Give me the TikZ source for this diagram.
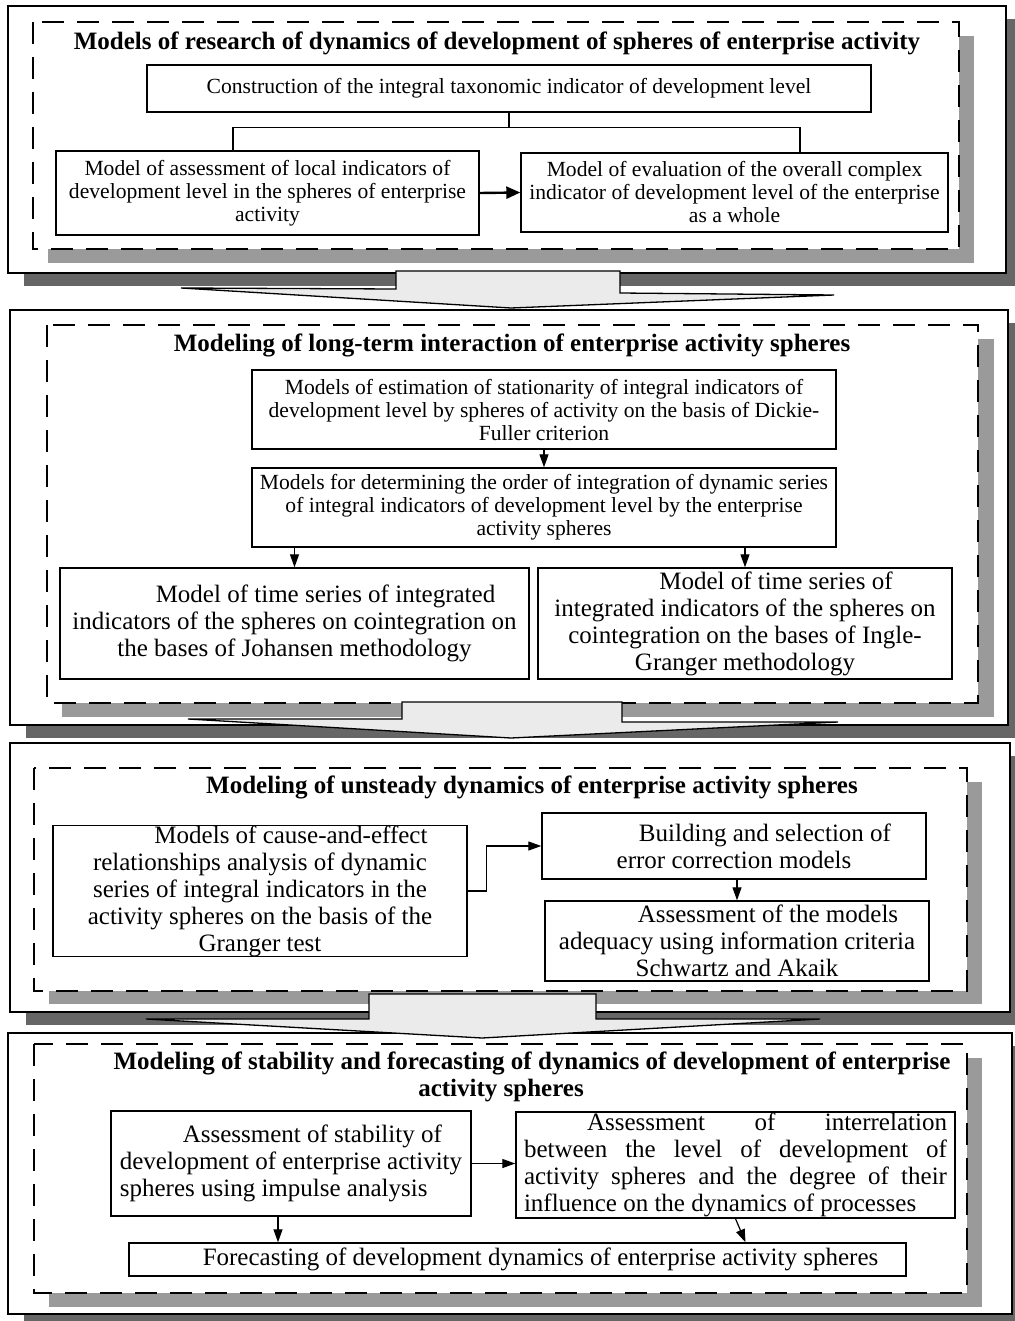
\documentclass[tikz,border=0pt]{standalone}
\usepackage{fontspec}
\setmainfont{Liberation Serif}
\usetikzlibrary{arrows.meta}

\definecolor{shadowdark}{HTML}{666666}
\definecolor{shadowlight}{HTML}{9A9A9A}
\definecolor{blockgray}{HTML}{EBEBEB}

\newcommand{\boxtext}{\fontsize{21.6}{23}\selectfont}
\newcommand{\bigtext}{\fontsize{25}{27}\selectfont}

\begin{document}
\begin{tikzpicture}[x=1pt, y=-1pt,
  outerbox/.style={draw, line width=1.4pt, fill=white},
  dashbox/.style={draw, line width=1.6pt, fill=white, dash pattern=on 22pt off 13pt},
  modelbox/.style={draw, line width=1.4pt, fill=white, inner sep=0pt, font=\boxtext, align=center},
  bigbox/.style={modelbox, font=\bigtext},
  heading/.style={font=\bigtext\bfseries, align=center, inner sep=0pt},
  arr/.style={line width=1.2pt, -{Triangle[length=13pt, width=9pt]}},
  blockarrow/.style={draw, line width=1.3pt, fill=blockgray, line join=miter}
]
  \useasboundingbox (0,0) rectangle (1014,1321);

  % Panel 1: research of dynamics
  \fill[shadowdark] (24,19) rectangle (1022,286);
  \draw[outerbox] (8,6) rectangle (1006,273);
  \fill[shadowlight] (48,36) rectangle (974,263);
  \draw[dashbox] (33,22) rectangle (959,249);

  \node[heading] (title1) at (497,43) {Models of research of dynamics of development of spheres of enterprise activity};
  \node[modelbox, minimum width=724pt, minimum height=47pt] (taxon) at (509,88.5)
    {Construction of the integral taxonomic indicator of development level};
  \node[modelbox, minimum width=423pt, minimum height=84pt] (local) at (267.5,193)
    {Model of assessment of local indicators of\\development level in the spheres of enterprise\\activity};
  \node[modelbox, minimum width=427pt, minimum height=79pt] (overall) at (734.5,192.5)
    {Model of evaluation of the overall complex\\indicator of development level of the enterprise\\as a whole};

  \draw[line width=1.2pt] (taxon.south) -- ++(0,15) -| ([xshift=-34.5pt]local.north);
  \draw[line width=1.2pt] (taxon.south) ++(0,15) -| ([xshift=65.5pt]overall.north);
  \draw[line width=2.4pt, -{Triangle[length=14pt, width=12pt]}] (local.east) -- (overall.west);

  % Block arrow 1
  \draw[blockarrow] (396,271) -- (620,271) -- (620,293) -- (834,295) -- (511,308)
    -- (181,288) -- (396,289) -- cycle;

  % Panel 2: long-term interaction
  \fill[shadowdark] (26,323) rectangle (1024,738);
  \draw[outerbox] (10,310) rectangle (1008,725);
  \fill[shadowlight] (62,339) rectangle (994,717);
  \draw[dashbox] (47,325) rectangle (978,703);

  \node[heading] (title2) at (512,345) {Modeling of long-term interaction of enterprise activity spheres};
  \node[modelbox, minimum width=584pt, minimum height=79pt] (station) at (544,409.5)
    {Models of estimation of stationarity of integral indicators of\\development level by spheres of activity on the basis of Dickie-\\Fuller criterion};
  \node[modelbox, minimum width=584pt, minimum height=79pt] (order) at (544,507.5)
    {Models for determining the order of integration of dynamic series\\of integral indicators of development level by the enterprise\\activity spheres};
  \node[bigbox, minimum width=469pt, minimum height=111pt] (johansen) at (294.5,623.5)
    {\hspace*{62pt}Model of time series of integrated\\indicators of the spheres on cointegration on\\the bases of Johansen methodology};
  \node[bigbox, minimum width=414pt, minimum height=111pt] (ingle) at (745,623.5)
    {\hspace*{62pt}Model of time series of\\integrated indicators of the spheres on\\cointegration on the bases of Ingle-\\Granger methodology};

  \draw[arr] (station.south) -- (order.north);
  \draw[arr] (order.south -| johansen.north) -- (johansen.north);
  \draw[arr] (order.south -| ingle.north) -- (ingle.north);

  % Block arrow 2
  \draw[blockarrow] (402,702) -- (622,702) -- (622,722) -- (838,722) -- (511,738)
    -- (188,719) -- (402,719) -- cycle;

  % Panel 3: unsteady dynamics
  \fill[shadowdark] (26,756) rectangle (1026,1025);
  \draw[outerbox] (10,743) rectangle (1010,1012);
  \fill[shadowlight] (49,782) rectangle (982,1004);
  \draw[dashbox] (34,768) rectangle (967,991);

  \node[heading] (title3) at (501,787) {\hspace*{62pt}Modeling of unsteady dynamics of enterprise activity spheres};
  \node[bigbox, minimum width=414pt, minimum height=126pt] (granger) at (260,891)
    {\hspace*{62pt}Models of cause-and-effect\\relationships analysis of dynamic\\series of integral indicators in the\\activity spheres on the basis of the\\Granger test};
  \node[bigbox, minimum width=384pt, minimum height=66pt] (ecm) at (734,846)
    {\hspace*{62pt}Building and selection of\\error correction models};
  \node[bigbox, minimum width=384pt, minimum height=80pt] (adequacy) at (737,941)
    {\hspace*{62pt}Assessment of the models\\adequacy using information criteria\\Schwartz and Akaik};

  \draw[arr] (granger.east) -- ++(19,0) |- (ecm.west);
  \draw[arr] (ecm.south -| adequacy.north) -- (adequacy.north);

  % Panel 4: stability and forecasting
  \fill[shadowdark] (24,1046) rectangle (1028,1327);
  \draw[outerbox] (8,1033) rectangle (1012,1314);
  \fill[shadowlight] (49,1058) rectangle (982,1307);
  \draw[dashbox] (34,1044) rectangle (967,1293);

  % Block arrow 3
  \draw[blockarrow] (369,994) -- (596,994) -- (596,1019) -- (820,1019) -- (482,1038)
    -- (146,1019) -- (369,1019) -- cycle;

  \node[heading] (title4) at (501,1077)
    {\hspace*{62pt}Modeling of stability and forecasting of dynamics of development of enterprise\\activity spheres};
  \node[bigbox, align=left, minimum width=360pt, minimum height=105pt] (impulse) at (291,1163.5)
    {\hspace*{63pt}Assessment of stability of\\development of enterprise activity\\spheres using impulse analysis};
  \node[bigbox, align=left, minimum width=439pt, minimum height=106pt] (interrel) at (735.5,1165)
    {\hspace*{63pt}\makebox[360pt][s]{Assessment of interrelation}\\
     \makebox[423pt][s]{between the level of development of}\\
     \makebox[423pt][s]{activity spheres and the degree of their}\\
     influence on the dynamics of processes};
  \node[bigbox, minimum width=777pt, minimum height=33pt] (forecast) at (517.5,1259.5)
    {\hspace*{46pt}Forecasting of development dynamics of enterprise activity spheres};

  \draw[arr] (impulse.east) -- (impulse.east -| interrel.west);
  \draw[arr] ([xshift=-13pt]impulse.south) -- ([xshift=-13pt]impulse.south |- forecast.north);
  \draw[arr] (interrel.south) -- ([xshift=10pt]interrel.south |- forecast.north);
\end{tikzpicture}
\end{document}
